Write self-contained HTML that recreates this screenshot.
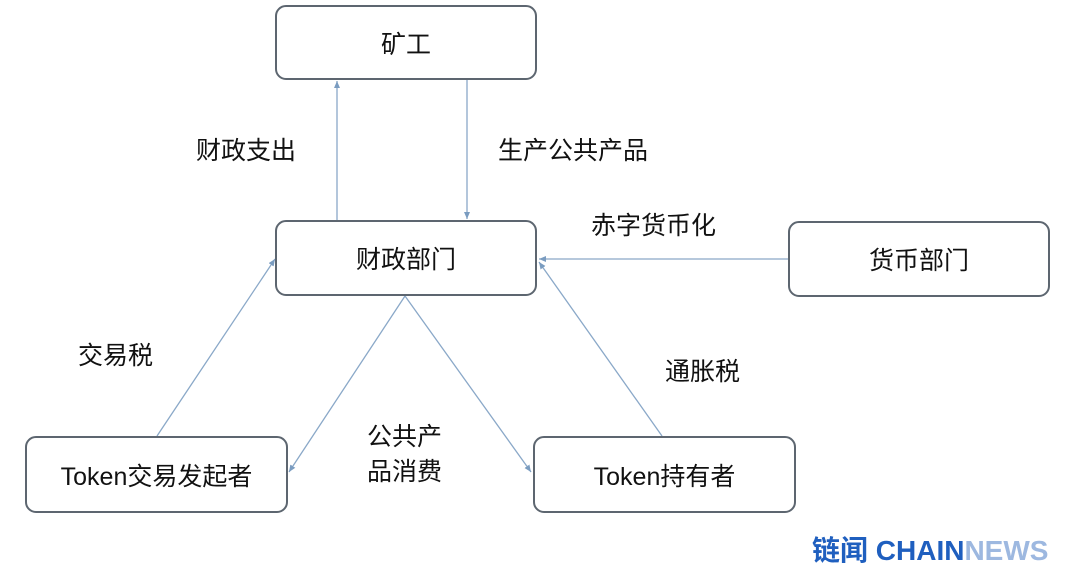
<!DOCTYPE html>
<html><head><meta charset="utf-8"><style>
body{margin:0;width:1080px;height:552px;background:#fff;overflow:hidden;position:relative;font-family:"Liberation Sans","Noto Sans CJK SC",sans-serif;color:#111}
.b{position:absolute;border:2px solid #5d6670;border-radius:11px;box-sizing:border-box;display:flex;align-items:center;justify-content:center;font-size:25px;background:#fff}
.t{position:absolute;font-size:25px;white-space:nowrap}
</style></head><body>
<svg width="1080" height="552" style="position:absolute;left:0;top:0">
<defs><marker id="a" markerWidth="8" markerHeight="8" refX="7" refY="4" orient="auto" markerUnits="userSpaceOnUse"><path d="M0,1 L7,4 L0,7 z" fill="#7a9cc0"/></marker></defs>
<g stroke="#8aa8c8" stroke-width="1.3" fill="none" marker-end="url(#a)">
<line x1="337" y1="220" x2="337" y2="81"/>
<line x1="467" y1="80" x2="467" y2="219"/>
<line x1="788" y1="259" x2="539" y2="259"/>
<line x1="157" y1="436" x2="275" y2="259"/>
<line x1="405" y1="296" x2="289" y2="472"/>
<line x1="405" y1="296" x2="531" y2="472"/>
<line x1="662" y1="436" x2="539" y2="262"/>
</g></svg>
<div class="b" style="left:275px;top:5px;width:262px;height:75px">矿工</div>
<div class="b" style="left:275px;top:220px;width:262px;height:76px">财政部门</div>
<div class="b" style="left:788px;top:221px;width:262px;height:76px">货币部门</div>
<div class="b" style="left:25px;top:436px;width:263px;height:77px">Token交易发起者</div>
<div class="b" style="left:533px;top:436px;width:263px;height:77px">Token持有者</div>
<div class="t" style="left:196px;top:131px">财政支出</div>
<div class="t" style="left:498px;top:131px">生产公共产品</div>
<div class="t" style="left:591px;top:206px">赤字货币化</div>
<div class="t" style="left:78px;top:336px">交易税</div>
<div class="t" style="left:665px;top:352px">通胀税</div>
<div class="t" style="left:367px;top:420px;line-height:35px">公共产<br>品消费</div>
<div class="t" style="left:812px;top:536px;font-size:28px;font-weight:bold;color:#1f5fbf;line-height:30px">链闻 CHAIN<span style="color:#9db8e0">NEWS</span></div>
</body></html>
